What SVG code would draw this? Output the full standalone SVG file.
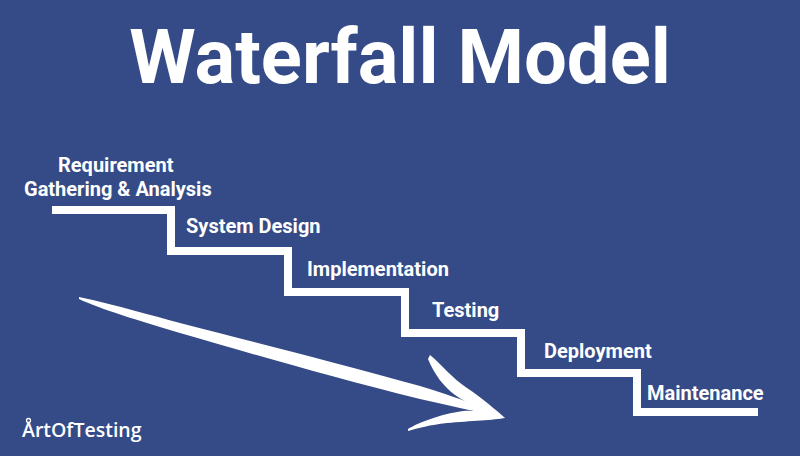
<svg xmlns="http://www.w3.org/2000/svg" width="800" height="456" viewBox="0 0 800 456">
<style>
.lbl{font-family:Roboto,"Liberation Sans",sans-serif;font-weight:700;font-size:20px;fill:#ffffff}
.title{font-family:Roboto,"Liberation Sans",sans-serif;font-weight:700;font-size:76px;fill:#ffffff}
.logo{font-family:"Open Sans","Liberation Sans",sans-serif;font-weight:600;font-size:19.5px;fill:#ffffff}
</style>
<rect width="800" height="456" fill="#354b87"/>
<text class="title" x="400" y="83" text-anchor="middle">Waterfall Model</text>
<g id="connectors">
<polyline points="52,210 171,210 171,251 288,251 288,292 405,292 405,333 521,333 521,373 637,373 637,412 758,412" fill="none" stroke="#ffffff" stroke-width="8" stroke-linejoin="miter"/>
<g id="arrow" fill="#ffffff">
<path d="M79,297 C120,306 150,315 180,323 C250,341 330,361 420,386 C460,398 490,410 505,418 C480,412 450,406 420,399 C330,377 250,353 180,333 C140,321 100,309 79,299 Z"/>
<path d="M430,355 C441,364 452,378 467,388 C482,398 496,410 505,418 C490,415 468,404 455,395 C444,387 434,374 428,359 Z"/>
<path d="M408,429 C418,423 440,414 463,411 C480,410 495,413 505,418 C495,420 470,421 447,423 C430,425 418,428 408,431 Z"/>
</g>
</g>
<g id="n1"><text class="lbl" x="58" y="172">Requirement</text><text class="lbl" x="24" y="196">Gathering &amp; Analysis</text></g>
<g id="n2"><text class="lbl" x="186" y="233">System Design</text></g>
<g id="n3"><text class="lbl" x="307" y="276">Implementation</text></g>
<g id="n4"><text class="lbl" x="432" y="317">Testing</text></g>
<g id="n5"><text class="lbl" x="544" y="358">Deployment</text></g>
<g id="n6"><text class="lbl" x="647" y="400">Maintenance</text></g>
<g id="logo"><text class="logo" x="22" y="437">ArtOfTesting</text><circle cx="28.5" cy="420.5" r="2" fill="none" stroke="#ffffff" stroke-width="1.3"/></g>
</svg>
